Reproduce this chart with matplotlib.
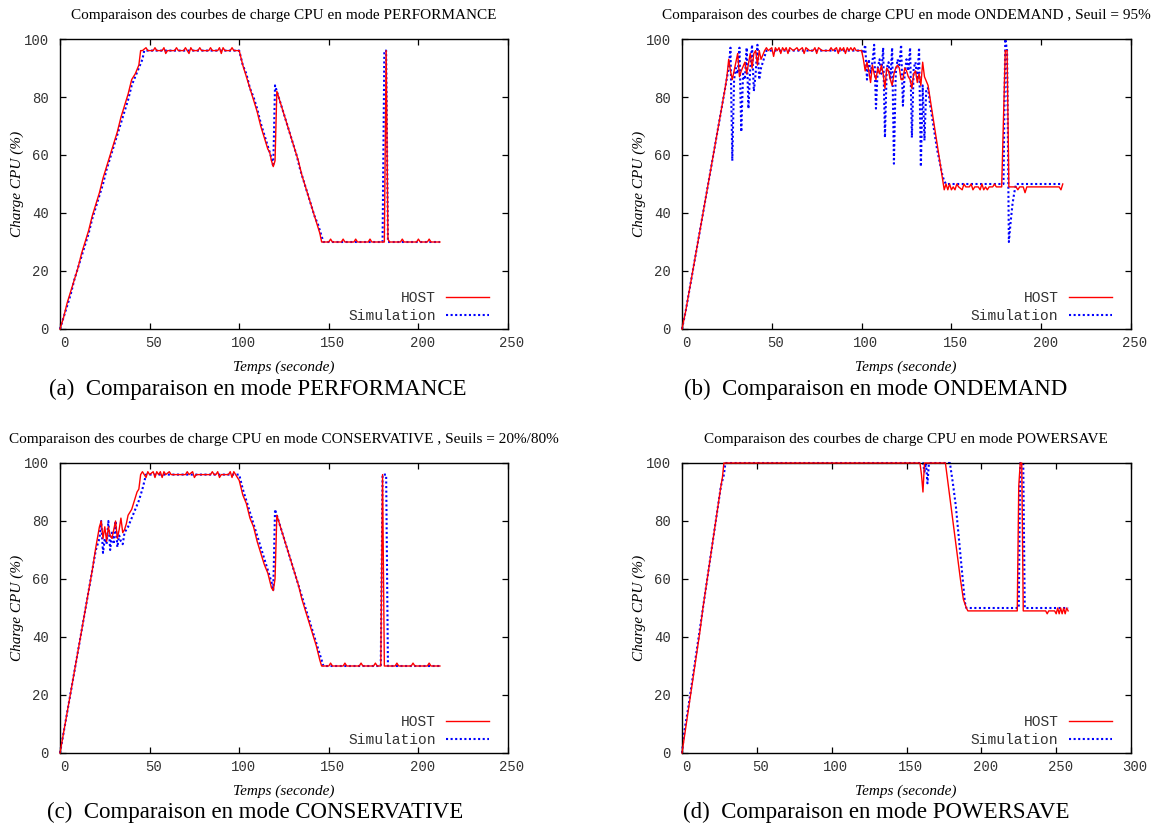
import matplotlib
matplotlib.use("Agg")
import matplotlib.pyplot as plt
from matplotlib.transforms import ScaledTranslation
from matplotlib.font_manager import FontProperties

# ---- data: (time s, CPU load %) vertices ----
perf_host = [(0, 0), (2, 4), (4, 9), (6, 13), (8, 17), (10, 21), (12, 26), (14, 30), (16, 34),
             (18, 39), (20, 43), (22, 47), (24, 52), (26, 56), (28, 60), (30, 64), (32, 68),
             (34, 73), (36, 77), (38, 81), (40, 86), (42, 88), (44, 91), (45, 96), (46, 96),
             (48, 97), (49, 96), (52, 96), (53, 97), (54, 96), (57, 96), (58, 97), (59, 95),
             (60, 96), (64, 96), (65, 97), (66, 96), (69, 96), (70, 97), (71, 96), (72, 95),
             (73, 97), (74, 96), (77, 96), (78, 97), (79, 96), (83, 96), (84, 97), (85, 96),
             (88, 96), (89, 97), (90, 95), (91, 97), (92, 96), (95, 96), (96, 97), (97, 96),
             (100, 96), (102, 91), (104, 87), (106, 83), (108, 79), (110, 75), (112, 70),
             (114, 66), (116, 62), (117, 61), (118, 58), (119, 56), (120, 58), (121, 82),
             (123, 78), (125, 74), (127, 70), (129, 66), (131, 62), (133, 58), (135, 53),
             (137, 49), (139, 45), (141, 41), (143, 37), (145, 33), (146, 30), (150, 30),
             (151, 31), (152, 30), (157, 30), (158, 31), (159, 30), (164, 30), (165, 31),
             (166, 30), (172, 30), (173, 31), (174, 30), (181, 30), (182, 96), (183, 31),
             (184, 30), (190, 30), (191, 31), (192, 30), (199, 30), (200, 31), (201, 30),
             (205, 30), (206, 31), (207, 30), (212, 30)]
perf_sim = [(0, 0), (2, 4), (4, 8), (6, 12), (8, 17), (10, 21), (12, 25), (14, 29), (16, 33),
            (18, 38), (20, 42), (22, 46), (24, 50), (26, 55), (28, 59), (30, 63), (32, 67),
            (34, 71), (36, 75), (38, 79), (40, 84), (42, 87), (44, 90), (46, 93), (47, 96),
            (100, 96), (102, 91), (104, 88), (106, 83), (108, 80), (110, 76),
            (112, 71), (114, 67), (116, 63), (118, 59), (119, 56), (120, 84), (122, 80),
            (124, 76), (126, 72), (128, 68), (130, 64), (132, 60), (134, 55), (136, 51),
            (138, 47), (140, 43), (142, 39), (144, 36), (146, 32), (147, 30), (180, 30),
            (181, 96), (182, 96), (183, 30), (212, 30)]

ondemand_host = [(0, 0), (2, 6), (4, 13), (6, 20), (8, 27), (10, 34), (12, 41), (14, 48),
                 (16, 55), (18, 62), (20, 69), (22, 76), (24, 83), (25, 87), (26, 93), (27, 89),
                 (28, 86), (30, 92), (31, 95), (32, 87), (33, 89), (35, 92), (36, 88), (38, 95),
                 (39, 90), (40, 95), (41, 96), (42, 91), (43, 96), (44, 93), (46, 96), (47, 97),
                 (48, 96), (50, 97), (51, 94), (52, 97), (53, 96), (54, 97), (55, 95), (56, 97),
                 (57, 96), (58, 97), (59, 95), (60, 97), (62, 96), (64, 97), (65, 96), (67, 97),
                 (68, 95), (69, 97), (71, 96), (73, 96), (74, 97), (75, 95), (76, 97), (78, 96),
                 (82, 96), (83, 97), (84, 96), (86, 97), (87, 95), (88, 97), (89, 96), (90, 97),
                 (91, 95), (92, 97), (93, 96), (94, 97), (95, 96), (96, 97), (97, 96), (100, 96),
                 (101, 93), (102, 89), (103, 92), (104, 89), (105, 85), (106, 91), (107, 88),
                 (108, 86), (109, 90), (110, 88), (111, 91), (112, 88), (113, 83), (114, 90),
                 (115, 89), (116, 86), (117, 84), (118, 88), (119, 90), (120, 91), (121, 90),
                 (122, 86), (123, 86), (124, 90), (125, 89), (126, 87), (127, 86), (128, 83),
                 (129, 88), (130, 89), (131, 85), (132, 88), (133, 84), (134, 92), (135, 87),
                 (137, 84), (139, 76), (141, 68), (143, 60), (145, 52), (146, 48), (147, 50),
                 (148, 48), (149, 50), (150, 48), (151, 49), (152, 48), (153, 50), (154, 49),
                 (156, 48), (157, 50), (158, 49), (160, 49), (161, 50), (162, 48), (163, 49),
                 (165, 49), (166, 48), (167, 50), (168, 48), (169, 49), (170, 48), (171, 49),
                 (173, 49), (174, 50), (175, 49), (178, 49), (180, 96), (181, 96), (182, 49),
                 (186, 49), (187, 48), (188, 49), (190, 49), (191, 47), (192, 49), (210, 49),
                 (211, 48), (212, 50)]
ondemand_sim = [(0, 0), (2, 6), (4, 13), (6, 20), (8, 27), (10, 34), (12, 41), (14, 48),
                (16, 55), (18, 62), (20, 69), (22, 76), (24, 83), (26, 90), (27, 97), (28, 58),
                (29, 86), (30, 90), (31, 88), (32, 97), (33, 68), (34, 88), (35, 86), (36, 97),
                (37, 76), (38, 90), (39, 98), (40, 82), (41, 88), (42, 98), (43, 86), (44, 90),
                (45, 92), (46, 94), (47, 96), (100, 96), (101, 95), (102, 98), (103, 86),
                (104, 93), (105, 88), (106, 92), (107, 98), (108, 76), (109, 90), (110, 93),
                (111, 88), (112, 97), (113, 66), (114, 90), (115, 92), (116, 86), (117, 97),
                (118, 57), (119, 88), (120, 93), (121, 91), (122, 98), (123, 77), (124, 88),
                (125, 93), (126, 89), (127, 97), (128, 66), (129, 90), (130, 92), (131, 86),
                (132, 97), (133, 56), (134, 84), (135, 65), (136, 83), (137, 83), (138, 78),
                (139, 74), (140, 70), (141, 66), (142, 62), (143, 59), (144, 56), (145, 53),
                (146, 51), (147, 50), (179, 50), (180, 100), (181, 96), (182, 30), (183, 37),
                (184, 43), (185, 47), (186, 50), (212, 50)]

conserv_host = [(0, 0), (2, 7), (4, 14), (6, 21), (8, 28), (10, 35), (12, 42), (14, 49),
                (16, 56), (18, 63), (20, 71), (22, 78), (23, 80), (24, 74), (25, 78), (26, 73),
                (27, 78), (28, 75), (29, 74), (30, 77), (31, 80), (32, 74), (33, 77), (34, 81),
                (35, 76), (36, 77), (37, 79), (38, 82), (40, 84), (42, 88), (43, 90), (44, 91),
                (45, 96), (46, 97), (47, 96), (48, 95), (49, 97), (50, 96), (52, 97), (53, 95),
                (54, 97), (55, 96), (56, 97), (57, 95), (58, 97), (59, 96), (61, 97), (62, 96),
                (70, 96), (71, 97), (72, 96), (74, 97), (75, 95), (76, 96), (84, 96), (85, 97),
                (86, 96), (87, 96), (88, 97), (89, 95), (90, 96), (94, 96), (95, 97), (96, 95),
                (97, 97), (98, 96), (100, 94), (102, 89), (104, 86), (106, 81), (108, 78),
                (110, 73), (112, 69), (114, 65), (116, 62), (118, 57), (119, 56), (120, 60),
                (121, 82), (123, 78), (125, 74), (127, 70), (129, 66), (131, 62), (133, 58),
                (135, 53), (137, 49), (139, 45), (141, 41), (143, 37), (145, 32), (146, 30),
                (150, 30), (151, 31), (152, 30), (158, 30), (159, 31), (160, 30), (167, 30),
                (168, 31), (169, 30), (175, 30), (176, 31), (177, 30), (179, 30), (180, 96),
                (181, 30), (187, 30), (188, 31), (189, 30), (196, 30), (197, 31), (198, 30),
                (205, 30), (206, 31), (207, 30), (212, 30)]
conserv_sim = [(0, 0), (2, 7), (4, 14), (6, 21), (8, 28), (10, 35), (12, 42), (14, 49),
               (16, 56), (18, 63), (20, 70), (22, 74), (23, 80), (24, 69), (25, 74), (26, 72),
               (27, 80), (28, 70), (29, 76), (30, 72), (31, 80), (32, 71), (33, 75), (34, 73),
               (35, 72), (36, 76), (38, 78), (40, 81), (42, 84), (44, 87), (46, 91), (48, 96),
               (100, 96), (102, 91), (104, 87), (106, 83), (108, 79), (110, 75), (112, 71),
               (114, 67), (116, 63), (118, 59), (119, 56), (120, 84), (122, 80), (124, 76),
               (126, 72), (128, 68), (130, 64), (132, 60), (134, 56), (136, 52), (138, 48),
               (140, 44), (142, 40), (144, 36), (146, 32), (147, 30), (179, 30), (180, 96),
               (182, 96), (183, 30), (212, 30)]

powersave_host = [(0, 0), (2, 7), (4, 14), (6, 21), (8, 28), (10, 35), (12, 42), (14, 50),
                  (16, 57), (18, 64), (20, 71), (22, 78), (24, 85), (26, 92), (27, 95),
                  (28, 100), (159, 100), (160, 96), (161, 90), (162, 100), (176, 100),
                  (178, 92), (180, 84), (182, 76), (184, 68), (186, 60), (188, 53), (190, 50),
                  (191, 49), (224, 49), (225, 92), (226, 100), (227, 100), (228, 49), (243, 49),
                  (244, 48), (245, 49), (249, 49), (250, 48), (251, 50), (252, 48), (253, 50),
                  (254, 48), (255, 50), (256, 48), (257, 50), (258, 49)]
powersave_sim = [(0, 0), (1, 5), (2, 9), (4, 15), (6, 22), (8, 29), (10, 36), (12, 43),
                 (14, 50), (16, 57), (18, 64), (20, 71), (22, 78), (24, 85), (26, 92), (28, 96),
                 (29, 100), (161, 100), (162, 97), (163, 100), (164, 93), (165, 100), (179, 100),
                 (181, 93), (183, 85), (185, 74), (187, 63), (189, 52), (190, 50), (225, 50),
                 (226, 100), (228, 100), (229, 50), (258, 50)]

titles = ["Comparaison des courbes de charge CPU en mode PERFORMANCE",
          "Comparaison des courbes de charge CPU en mode ONDEMAND , Seuil = 95%",
          "Comparaison des courbes de charge CPU en mode CONSERVATIVE , Seuils = 20%/80%",
          "Comparaison des courbes de charge CPU en mode POWERSAVE"]
captions = ["(a)  Comparaison en mode PERFORMANCE",
            "(b)  Comparaison en mode ONDEMAND",
            "(c)  Comparaison en mode CONSERVATIVE",
            "(d)  Comparaison en mode POWERSAVE"]
series = [(perf_host, perf_sim), (ondemand_host, ondemand_sim),
          (conserv_host, conserv_sim), (powersave_host, powersave_sim)]
x_max = [250, 250, 250, 300]
y_ticks = [0, 20, 40, 60, 80, 100]

W, H = 1154, 825
# pixel layout: axes (left, top, width, height), title, ylabel, xlabel, caption centres
layout = [
    dict(ax=(60, 39, 448, 290), title=(284, 16), ylab=(17, 184), xlab=(284, 367), cap=(258, 389)),
    dict(ax=(682, 39, 449, 290), title=(906, 16), ylab=(639, 184), xlab=(906, 367), cap=(876, 389)),
    dict(ax=(60, 463, 448, 290), title=(284, 440), ylab=(17, 608), xlab=(284, 791), cap=(255, 812)),
    dict(ax=(682, 463, 449, 290), title=(906, 440), ylab=(639, 608), xlab=(906, 791), cap=(876, 812)),
]

SERIF = "Liberation Serif"
MONO = "Liberation Mono"
TICK_COLOR = "#333333"


def fx(px):
    return px / W


def fy(py):
    return 1 - py / H


fig = plt.figure(figsize=(W / 100, H / 100), dpi=100)

for i in range(4):
    lay = layout[i]
    l, t, w, h = lay["ax"]
    ax = fig.add_axes([fx(l), fy(t + h), w / W, h / H])

    host, sim = series[i]
    ax.plot([p[0] for p in host], [p[1] for p in host], color="#ff0000", lw=1.0,
            label="HOST", clip_on=False, zorder=3)
    ax.plot([p[0] for p in sim], [p[1] for p in sim], color="#0000ff", lw=1.5,
            linestyle=(0, (1, 1.2)), label="Simulation", clip_on=False, zorder=2)

    ax.set_xlim(0, x_max[i])
    ax.set_ylim(0, 100)
    ax.set_xticks(list(range(0, x_max[i] + 1, 50)))
    ax.set_yticks(y_ticks)
    ax.tick_params(direction="in", top=True, right=True, length=4.5, width=0.9,
                   labelsize=10, labelcolor=TICK_COLOR)
    ax.tick_params(axis="x", pad=5)
    ax.tick_params(axis="y", pad=8)
    for lbl in ax.get_xticklabels() + ax.get_yticklabels():
        lbl.set_family(MONO)
    shift = ScaledTranslation(4 / 100, 0, fig.dpi_scale_trans)
    for lbl in ax.get_xticklabels():
        lbl.set_transform(lbl.get_transform() + shift)
    for sp in ax.spines.values():
        sp.set_linewidth(1.0)

    leg = ax.legend(loc="lower right", bbox_to_anchor=(0.957, 0.02), frameon=False,
                    markerfirst=False, handlelength=2.9, handletextpad=0.75,
                    labelspacing=0.3, borderaxespad=0, borderpad=0,
                    prop=FontProperties(family=MONO, size=10.5))
    for txt in leg.get_texts():
        txt.set_color(TICK_COLOR)

    fig.text(fx(lay["title"][0]), fy(lay["title"][1]), titles[i], ha="center", va="center",
             family=SERIF, fontsize=11)
    fig.text(fx(lay["ylab"][0]), fy(lay["ylab"][1]), "Charge CPU (%)", ha="center",
             va="center", rotation=90, family=SERIF, style="italic", fontsize=11)
    fig.text(fx(lay["xlab"][0]), fy(lay["xlab"][1]), "Temps (seconde)", ha="center",
             va="center", family=SERIF, style="italic", fontsize=11)
    fig.text(fx(lay["cap"][0]), fy(lay["cap"][1]), captions[i], ha="center", va="center",
             family=SERIF, fontsize=16.5)

fig.savefig("out.png", dpi=100)
